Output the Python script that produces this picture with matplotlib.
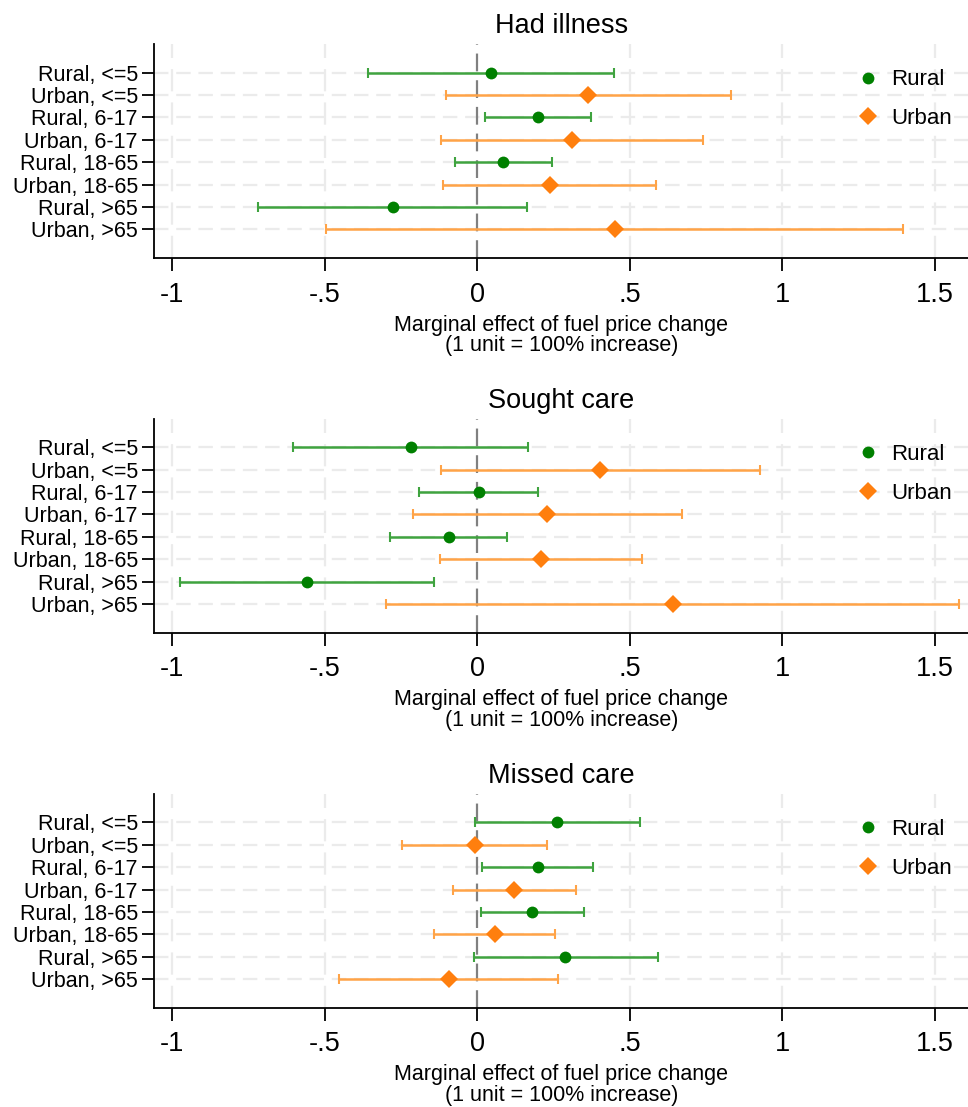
import matplotlib
matplotlib.use("Agg")
import matplotlib.pyplot as plt
import numpy as np

plt.rcParams['font.family'] = ['Liberation Sans', 'DejaVu Sans']

row_labels = ["Rural, <=5", "Urban, <=5", "Rural, 6-17", "Urban, 6-17",
              "Rural, 18-65", "Urban, 18-65", "Rural, >65", "Urban, >65"]
groups = ["Rural", "Urban", "Rural", "Urban", "Rural", "Urban", "Rural", "Urban"]
titles = ["Had illness", "Sought care", "Missed care"]

# point estimates, lower CI, upper CI per panel
had_est = [0.045, 0.364, 0.200, 0.312, 0.085, 0.238, -0.276, 0.450]
had_lo = [-0.357, -0.102, 0.027, -0.117, -0.074, -0.112, -0.717, -0.496]
had_hi = [0.448, 0.830, 0.374, 0.740, 0.246, 0.587, 0.164, 1.396]

sought_est = [-0.216, 0.404, 0.005, 0.230, -0.093, 0.210, -0.558, 0.641]
sought_lo = [-0.602, -0.119, -0.190, -0.210, -0.285, -0.123, -0.973, -0.298]
sought_hi = [0.168, 0.927, 0.200, 0.670, 0.098, 0.540, -0.140, 1.577]

missed_est = [0.261, -0.008, 0.198, 0.122, 0.181, 0.058, 0.289, -0.092]
missed_lo = [-0.007, -0.245, 0.016, -0.080, 0.013, -0.141, -0.011, -0.451]
missed_hi = [0.532, 0.230, 0.380, 0.324, 0.350, 0.255, 0.591, 0.266]

xticks = [-1, -0.5, 0, 0.5, 1, 1.5]
xticklabels = ["-1", "-.5", "0", ".5", "1", "1.5"]

panels = [(had_est, had_lo, had_hi), (sought_est, sought_lo, sought_hi),
          (missed_est, missed_lo, missed_hi)]

marker_col = {"Rural": "#008000", "Urban": "#ff7f0e"}
ci_col = {"Rural": "#3fa33f", "Urban": "#ffa347"}
marker_shape = {"Rural": "o", "Urban": "D"}
marker_size = {"Rural": 8.5, "Urban": 9}

fig = plt.figure(figsize=(9.68, 11.07), dpi=100)
bottoms = [0.7669, 0.4285, 0.0897]
height = 0.1933
left = 0.1596

for p, (est, lo, hi) in enumerate(panels):
    ax = fig.add_axes([left, bottoms[p], 1.0 - left, height])
    ypos = np.arange(1, len(row_labels) + 1)
    # grid
    for xv in xticks:
        if xv == 0:
            continue
        ax.axvline(xv, color="#ebebeb", lw=1.6, ls=(0, (10, 5)), zorder=0)
    for yv in ypos:
        ax.axhline(yv, color="#ebebeb", lw=1.6, ls=(0, (6.5, 3.5)), zorder=0)
    ax.axvline(0, color="#808080", lw=1.6, ls=(0, (8, 4)), zorder=1)
    handles = {}
    for i, g in enumerate(groups):
        ax.errorbar([est[i]], [ypos[i]], xerr=[[est[i] - lo[i]], [hi[i] - est[i]]],
                    fmt="none", ecolor=ci_col[g], elinewidth=1.8, capsize=3.8,
                    capthick=1.5, zorder=2)
        h, = ax.plot([est[i]], [ypos[i]], ls="none", marker=marker_shape[g],
                     color=marker_col[g], markersize=marker_size[g],
                     markeredgewidth=0, zorder=3, label=g)
        handles[g] = h
    ax.set_xlim(-1.057, 1.608)
    ax.set_ylim(len(row_labels) + 1.28, 1 - 1.28)
    ax.set_yticks(ypos)
    ax.set_yticklabels(row_labels, fontsize=15.5)
    ax.set_xticks(xticks)
    ax.set_xticklabels(xticklabels, fontsize=19.5)
    ax.tick_params(axis="y", length=9, width=1.3, pad=3)
    ax.tick_params(axis="x", length=9, width=1.3, pad=8)
    for s in ["top", "right"]:
        ax.spines[s].set_visible(False)
    for s in ["left", "bottom"]:
        ax.spines[s].set_linewidth(1.3)
    ax.set_xlabel("Marginal effect of fuel price change\n(1 unit = 100% increase)",
                  fontsize=15.5, labelpad=5, linespacing=0.98)
    ax.set_title(titles[p], fontsize=19.5, pad=8)
    ax.legend([handles["Rural"], handles["Urban"]], ["Rural", "Urban"],
              loc="upper right", bbox_to_anchor=(1.005, 0.975), frameon=False,
              fontsize=16, handletextpad=0.45, labelspacing=0.8, handlelength=1.2)

fig.savefig("out.png", dpi=100)
